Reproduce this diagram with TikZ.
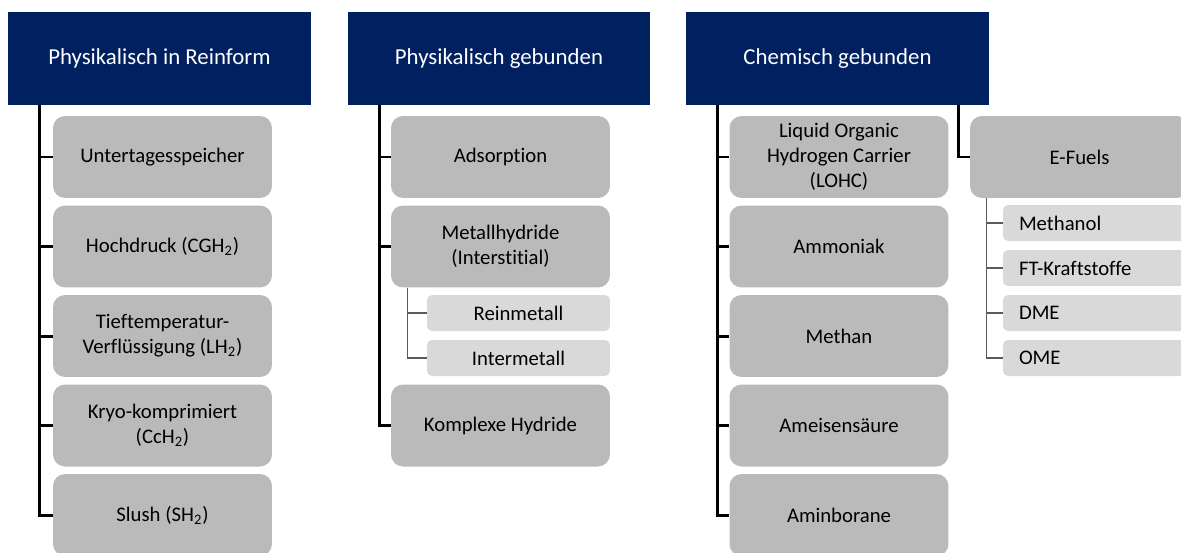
\documentclass[tikz,border=0pt]{standalone}
\usepackage{fontspec}
\setmainfont{Carlito}[Ligatures={NoCommon}]
\usetikzlibrary{calc}
\definecolor{navy}{RGB}{0,32,96}
\definecolor{boxgrau}{RGB}{186,186,186}
\definecolor{hellgrau}{RGB}{217,217,217}
\definecolor{astgrau}{RGB}{90,90,90}
\tikzset{
  kopf/.style={fill=navy, text=white, align=center, inner sep=0pt,
    font=\fontsize{13}{15}\selectfont, minimum width=6.06cm, minimum height=1.86cm},
  kasten/.style={fill=boxgrau, rounded corners=0.24cm, align=center, inner sep=0pt,
    minimum width=4.38cm, minimum height=1.64cm},
  unterkasten/.style={fill=hellgrau, rounded corners=0.1cm, align=center, inner sep=0pt,
    minimum width=3.66cm, minimum height=0.72cm},
  unterlinks/.style={unterkasten, text width=3.02cm, align=left, inner xsep=0.32cm},
  stamm/.style={draw=black, line width=1.7pt},
  ast/.style={draw=astgrau, line width=0.85pt},
}
\newcommand{\hzwei}{H\textsubscript{2}}
\begin{document}
\begin{tikzpicture}[x=0.02cm, y=-0.02cm, font=\fontsize{11.8}{14.2}\selectfont]
    \useasboundingbox (0,0) rectangle (1181,552);
    % Spalte 1 : physikalisch in Reinform
    \node[kopf]    (h1) at (159.5,58.5) {Physikalisch in Reinform};
    \node[kasten]  (utg)   at (162.5,157)   {Untertagesspeicher};
    \node[kasten]  (cgh)   at (162.5,246.5) {Hochdruck (CG\hzwei)};
    \node[kasten]  (lh)    at (162.5,336)   {Tieftemperatur-\\ Verflüssigung (L\hzwei)};
    \node[kasten]  (cch)   at (162.5,425.5) {Kryo-komprimiert\\ (Cc\hzwei)};
    \node[kasten]  (slush) at (162.5,515)   {Slush (S\hzwei)};
    % Spalte 2 : physikalisch gebunden
    \node[kopf]    (h2) at (499,58.5) {Physikalisch gebunden};
    \node[kasten]  (ads)   at (500.5,157)   {Adsorption};
    \node[kasten]  (mh)    at (500.5,246.5) {Metallhydride\\ (Interstitial)};
    \node[unterkasten] (rein)  at (518.5,313) {Reinmetall};
    \node[unterkasten] (inter) at (518.5,358) {Intermetall};
    \node[kasten]  (kh)    at (500.5,425.5) {Komplexe Hydride};
    % Spalte 3 : chemisch gebunden
    \node[kopf]    (h3) at (837.5,58.5) {Chemisch gebunden};
    \node[kasten]  (lohc)  at (839,157)   {Liquid Organic\\ Hydrogen Carrier\\ (LOHC)};
    \node[kasten]  (nh)    at (839,246.5) {Ammoniak};
    \node[kasten]  (ch)    at (839,336)   {Methan};
    \node[kasten]  (ameis) at (839,425.5) {Ameisensäure};
    \node[kasten]  (amin)  at (839,515)   {Aminborane};
    \node[kasten]  (ef)    at (1079.5,157) {E-Fuels};
    \node[unterlinks] (meoh) at (1094.5,223) {Methanol};
    \node[unterlinks] (ft)   at (1094.5,268) {FT-Kraftstoffe};
    \node[unterlinks] (dme)  at (1094.5,313) {DME};
    \node[unterlinks] (ome)  at (1094.5,358) {OME};
    % Verbindungen
    \draw[stamm] ($(h1.south west)+(32,0)$) |- (utg.west);
    \draw[stamm] ($(h1.south west)+(32,0)$) |- (cgh.west);
    \draw[stamm] ($(h1.south west)+(32,0)$) |- (lh.west);
    \draw[stamm] ($(h1.south west)+(32,0)$) |- (cch.west);
    \draw[stamm] ($(h1.south west)+(32,0)$) |- (slush.west);
    \draw[stamm] ($(h2.south west)+(32,0)$) |- (ads.west);
    \draw[stamm] ($(h2.south west)+(32,0)$) |- (mh.west);
    \draw[stamm] ($(h2.south west)+(32,0)$) |- (kh.west);
    \draw[ast] ($(mh.south west)+(17,0)$) |- (rein.west);
    \draw[ast] ($(mh.south west)+(17,0)$) |- (inter.west);
    \draw[stamm] ($(h3.south west)+(32,0)$) |- (lohc.west);
    \draw[stamm] ($(h3.south west)+(32,0)$) |- (nh.west);
    \draw[stamm] ($(h3.south west)+(32,0)$) |- (ch.west);
    \draw[stamm] ($(h3.south west)+(32,0)$) |- (ameis.west);
    \draw[stamm] ($(h3.south west)+(32,0)$) |- (amin.west);
    \draw[stamm] ($(h3.south east)+(-31,0)$) |- (ef.west);
    \draw[ast] ($(ef.south west)+(17,0)$) |- (meoh.west);
    \draw[ast] ($(ef.south west)+(17,0)$) |- (ft.west);
    \draw[ast] ($(ef.south west)+(17,0)$) |- (dme.west);
    \draw[ast] ($(ef.south west)+(17,0)$) |- (ome.west);
  \end{tikzpicture}
\end{document}
